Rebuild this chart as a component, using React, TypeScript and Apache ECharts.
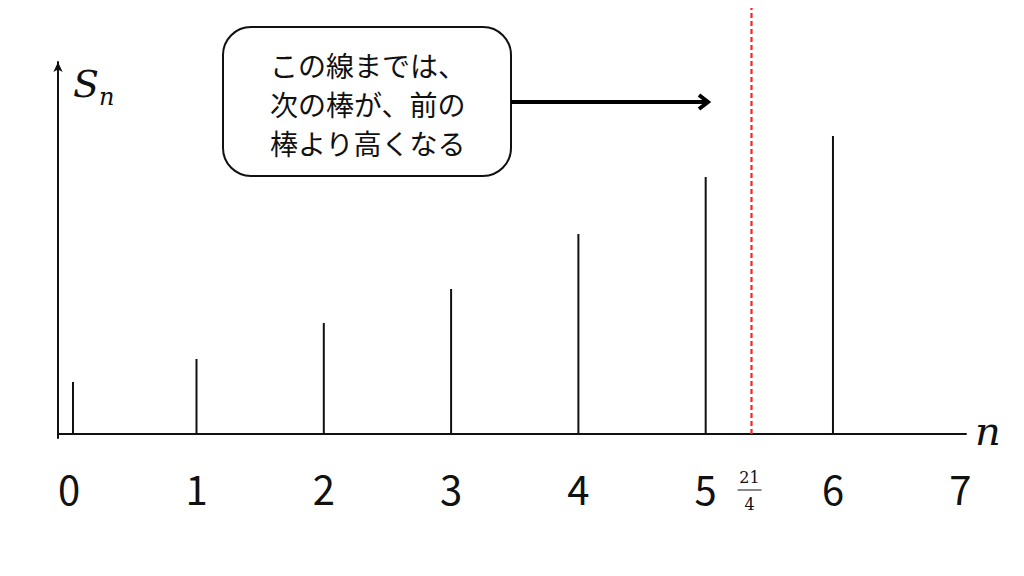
import React, { useEffect, useRef } from 'react';
import * as echarts from 'echarts';

// S_n の棒（n の位置と高さ）
const barN = [0.03, 1, 2, 3, 4, 5, 6];
const barS = [52, 75, 111, 145, 200, 257, 298];
const tickValues = [0, 1, 2, 3, 4, 5, 6, 7];
// 赤い点線（21/4 の位置として描かれている）
const markerN = 5.36;
const markerNum = '21';
const markerDen = '4';
const noteLines = ['この線までは、', '次の棒が、前の', '棒より高くなる'];

const JP = 'Noto Sans CJK JP';
const SERIF = 'DejaVu Serif';

const serifText = (text: string, x: number, y: number, size: number, italic: boolean, align = 'left') => ({
    type: 'text',
    x,
    y,
    style: {
        text,
        fill: '#111',
        fontFamily: SERIF,
        fontSize: size,
        fontStyle: italic ? 'italic' : 'normal',
        verticalAlign: 'middle',
        align
    }
});

const App: React.FC = () => {
    const chartRef = useRef<HTMLDivElement>(null);

    useEffect(() => {
        if (!chartRef.current) return;
        const chart = echarts.init(chartRef.current, null, { renderer: 'svg' });

        const option: echarts.EChartsOption = {
            animation: false,
            backgroundColor: '#fff',
            grid: { left: 58, right: 58, top: 62, bottom: 138 },
            xAxis: {
                type: 'value',
                min: -0.088,
                max: 7.045,
                axisLine: { onZero: true, lineStyle: { color: '#111', width: 2 } },
                axisTick: { show: false },
                splitLine: { show: false },
                axisLabel: {
                    customValues: tickValues,
                    color: '#111',
                    fontSize: 40,
                    fontFamily: JP,
                    margin: 30
                }
            },
            yAxis: {
                type: 'value',
                min: -4,
                max: 372,
                axisLine: {
                    show: true,
                    onZero: false,
                    symbol: ['none', 'arrow'],
                    symbolSize: [7, 10],
                    lineStyle: { color: '#111', width: 2 }
                },
                axisTick: { show: false },
                axisLabel: { show: false },
                splitLine: { show: false }
            },
            series: [
                {
                    type: 'bar',
                    data: barN.map((n, i) => [n, barS[i]]),
                    barWidth: 2,
                    itemStyle: { color: '#111' }
                },
                {
                    type: 'line',
                    data: [[markerN, 0], [markerN, 440]],
                    clip: false,
                    symbol: 'none',
                    lineStyle: { color: '#ff2020', width: 2.2, type: [5, 3] }
                }
            ]
        };
        chart.setOption(option);

        const mx = chart.convertToPixel({ xAxisIndex: 0 }, markerN) as number;

        chart.setOption({
            graphic: [
                {
                    type: 'rect',
                    shape: { x: 223, y: 27, width: 288, height: 149, r: 28 },
                    style: { fill: '#fff', stroke: '#111', lineWidth: 2 }
                },
                ...noteLines.map((t, i) => ({
                    type: 'text',
                    x: 270,
                    y: 65 + i * 39,
                    style: { text: t, fill: '#111', fontFamily: JP, fontSize: 28, verticalAlign: 'middle', align: 'left' }
                })),
                {
                    type: 'line',
                    shape: { x1: 511, y1: 102, x2: 707, y2: 102 },
                    style: { stroke: '#000', lineWidth: 4 }
                },
                {
                    type: 'polyline',
                    shape: { points: [[699, 95], [708, 102], [699, 109]] },
                    style: { stroke: '#000', lineWidth: 4, fill: 'none' }
                },
                serifText('S', 73, 84, 38, true),
                serifText('n', 99, 97, 24, true),
                serifText('n', 975, 431, 40, true),
                serifText(markerNum, mx - 2, 477, 16, false, 'center'),
                {
                    type: 'line',
                    shape: { x1: mx - 14, y1: 490, x2: mx + 10, y2: 490 },
                    style: { stroke: '#111', lineWidth: 1 }
                },
                serifText(markerDen, mx - 2, 504, 16, false, 'center')
            ]
        });

        return () => {
            chart.dispose();
        };
    }, []);

    return <div ref={chartRef} style={{ width: 1024, height: 576, margin: -8 }} />;
};

export default App;
